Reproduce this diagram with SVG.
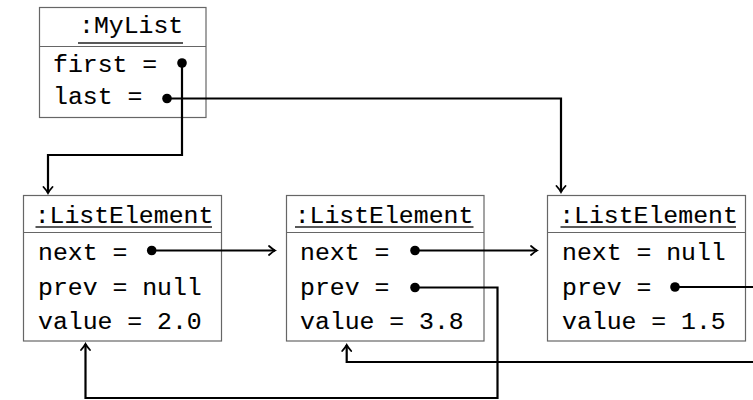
<svg xmlns="http://www.w3.org/2000/svg" width="753" height="400" viewBox="0 0 753 400">
  <style>
    .box { fill: #fff; stroke: #666; stroke-width: 1.2; }
    .sep { stroke: #666; stroke-width: 1.2; }
    .ul { stroke: #222; stroke-width: 1.3; }
    .t { font-family: "Liberation Mono", "DejaVu Sans Mono", monospace; font-size: 24.8px; fill: #000; stroke: #000; stroke-width: 0.1; }
    .hd { text-anchor: middle; }
    .wire { fill: none; stroke: #000; stroke-width: 2.2; stroke-linejoin: miter; }
    .dot { fill: #000; }
  </style>
  <defs>
    <marker id="arrow" viewBox="-8 -6 10 12" markerWidth="10" markerHeight="12" refX="0" refY="0" orient="auto" markerUnits="userSpaceOnUse">
      <path d="M -6 -4.5 Q -2 -1 0 0 Q -2 1 -6 4.5" fill="none" stroke="#000" stroke-width="1.8" stroke-linecap="round"/>
    </marker>
  </defs>

  <rect width="753" height="400" fill="#fff"/>

  <!-- the list object -->
  <g id="mylist">
    <rect class="box" x="39.5" y="7.5" width="166.5" height="110"/>
    <line class="sep" x1="39.5" y1="46.5" x2="206" y2="46.5"/>
    <text class="t" x="79" y="33">:MyList</text>
    <line class="ul" x1="78" y1="43" x2="183" y2="43"/>
    <text class="t" x="53" y="72">first =</text>
    <text class="t" x="53" y="103.5">last =</text>
  </g>

  <!-- element 1 -->
  <g id="elem1">
    <rect class="box" x="23.5" y="195.5" width="198" height="145.5"/>
    <line class="sep" x1="23.5" y1="232.5" x2="221.5" y2="232.5"/>
    <text class="t hd" x="124" y="223">:ListElement</text>
    <line class="ul" x1="35.5" y1="227" x2="212" y2="227"/>
    <text class="t" x="38" y="260">next =</text>
    <text class="t" x="38" y="294.5">prev = null</text>
    <text class="t" x="38" y="329">value = 2.0</text>
  </g>

  <!-- element 2 -->
  <g id="elem2">
    <rect class="box" x="286.5" y="195.5" width="197.5" height="145.5"/>
    <line class="sep" x1="286.5" y1="232.5" x2="484" y2="232.5"/>
    <text class="t hd" x="384" y="223">:ListElement</text>
    <line class="ul" x1="295" y1="227" x2="473.5" y2="227"/>
    <text class="t" x="300" y="260">next =</text>
    <text class="t" x="300" y="294.5">prev =</text>
    <text class="t" x="300" y="329">value = 3.8</text>
  </g>

  <!-- element 3 -->
  <g id="elem3">
    <rect class="box" x="547.5" y="195.5" width="198" height="145.5"/>
    <line class="sep" x1="547.5" y1="232.5" x2="745.5" y2="232.5"/>
    <text class="t hd" x="648.5" y="223">:ListElement</text>
    <line class="ul" x1="560.5" y1="227" x2="736" y2="227"/>
    <text class="t" x="562" y="260">next = null</text>
    <text class="t" x="562" y="294.5">prev =</text>
    <text class="t" x="562" y="329">value = 1.5</text>
  </g>

  <!-- references -->
  <g id="connectors">
    <!-- first -->
    <path class="wire" d="M 182 63 V 155 H 48 V 193" marker-end="url(#arrow)"/>
    <!-- last -->
    <path class="wire" d="M 167 98.5 H 561 V 192" marker-end="url(#arrow)"/>
    <!-- elem1.next -->
    <path class="wire" d="M 151.7 250.5 H 275" marker-end="url(#arrow)"/>
    <!-- elem2.next -->
    <path class="wire" d="M 415 250.5 H 537" marker-end="url(#arrow)"/>
    <!-- elem2.prev -->
    <path class="wire" d="M 415 287.5 H 497.5 V 398 H 85.5 V 344" marker-end="url(#arrow)"/>
    <!-- elem3.prev -->
    <path class="wire" d="M 675 287 H 775 V 362 H 346.7 V 345" marker-end="url(#arrow)"/>

    <circle class="dot" cx="182" cy="63" r="4.8"/>
    <circle class="dot" cx="167" cy="98.5" r="4.8"/>
    <circle class="dot" cx="151.7" cy="250.5" r="4.8"/>
    <circle class="dot" cx="415" cy="250.5" r="4.8"/>
    <circle class="dot" cx="415" cy="287.5" r="4.8"/>
    <circle class="dot" cx="675" cy="287" r="4.8"/>
  </g>
</svg>
